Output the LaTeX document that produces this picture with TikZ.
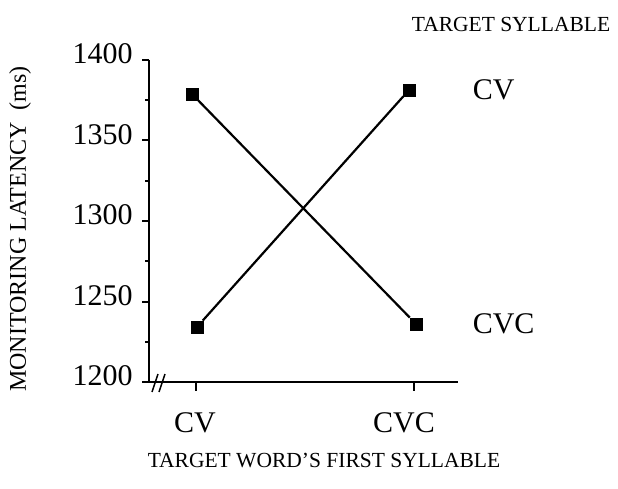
\documentclass[tikz,border=0pt]{standalone}
\usepackage{fontspec}
\setmainfont{Liberation Serif}
\usetikzlibrary{positioning}
\begin{document}
\begin{tikzpicture}[x=1pt, y=-1pt, thick,
    big/.style = {font=\fontsize{30}{32}\selectfont, inner sep=0pt},
    small/.style = {font=\fontsize{21.5}{24}\selectfont, inner sep=0pt},
    axis/.style = {line width=2pt},
    dot/.style = {draw, fill, rectangle, minimum size=12pt, inner sep=0pt},
    conn/.style = {line width=2.2pt}]
    \useasboundingbox (0,0) rectangle (618,489);

    % axes
    \coordinate (ytop) at (149,60);
    \coordinate (orig) at (149,382);
    \coordinate (xbeg) at (143,382);
    \coordinate (xend) at (458,382);
    \draw[axis] (ytop) -- (orig);
    \draw[axis] (xbeg) -- (xend);
    \draw[line width=1.5pt] (152,392) -- (158,374);
    \draw[line width=1.5pt] (159,392) -- (165,374);

    \foreach \v/\y in {1400/60, 1350/140.5, 1300/221, 1250/301.5, 1200/382} {
        \draw[axis] (142,\y) -- (149,\y);
        \node[big, anchor=east] (y\v) at (133,\y-6) {\v};
    }
    \foreach \y in {100.25, 180.75, 261.25, 341.75}
        \draw[axis] (145,\y) -- (149,\y);

    \draw[axis] (196,382) -- (196,391);
    \draw[axis] (414,382) -- (414,391);
    \node[big] (xcv) at (195,423) {CV};
    \node[big] (xcvc) at (404,423) {CVC};

    \node[small] (xtitle) at (324,461) {TARGET WORD'S FIRST SYLLABLE};
    \node[small, font=\fontsize{24}{26}\selectfont, rotate=90] (ytitle) at (20,229) {MONITORING LATENCY\ \ (ms)};
    \node[small] (key) at (511,24) {TARGET SYLLABLE};

    % data
    \node[dot] (cv-cv) at (197,327) {};
    \node[dot] (cv-cvc) at (192,94) {};
    \node[dot] (cvc-cv) at (409,90) {};
    \node[dot] (cvc-cvc) at (416,324) {};

    \draw[conn] (cv-cv) -- (cvc-cv);
    \draw[conn] (cv-cvc) -- (cvc-cvc);

    \node[big, anchor=west] (lcv) [right=57pt of cvc-cv.east, anchor=west] {CV};
    \node[big, anchor=west] (lcvc) [right=50pt of cvc-cvc.east, anchor=west] {CVC};
\end{tikzpicture}
\end{document}
